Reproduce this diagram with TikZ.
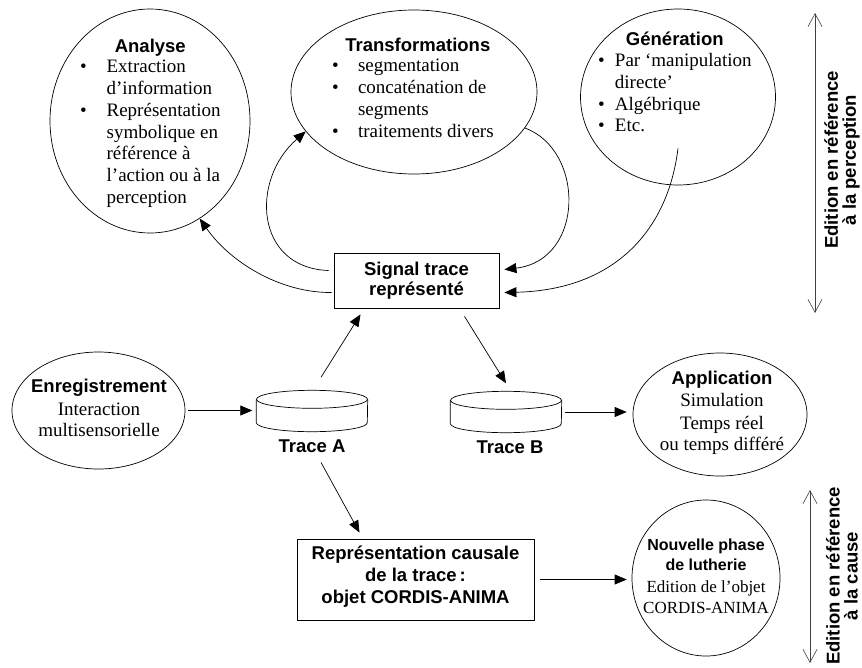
\documentclass[tikz,border=0pt]{standalone}
\usepackage{fontspec}
\setmainfont{Liberation Serif}
\setsansfont{Liberation Sans}
\usetikzlibrary{positioning, arrows.meta, shapes.geometric, calc}

\newcommand{\hd}{\sffamily\bfseries\fontsize{18.5}{22.2}\selectfont}
\newcommand{\hs}{\sffamily\bfseries\fontsize{18.5}{19.5}\selectfont}
\newcommand{\hn}{\sffamily\bfseries\fontsize{16}{21}\selectfont}
\newcommand{\tx}{\rmfamily\fontsize{19}{21.7}\selectfont}
\newcommand{\tn}{\rmfamily\fontsize{17}{21}\selectfont}
\newcommand{\bul}{\textbullet}
\newcommand{\deep}[1]{\rule[-#1]{0pt}{#1}}

\tikzset{
  bubble/.style={draw, ellipse, inner sep=0pt, line width=0.7pt},
  txt/.style={inner sep=0pt, outer sep=0pt, font=\tx},
  box/.style={draw, rectangle, line width=0.8pt, inner sep=0pt, font=\hd, align=center},
  disk/.style={rectangle, inner sep=0pt, minimum width=111pt, minimum height=41pt},
  conn/.style={-{Triangle[length=12pt,width=10pt]}, line width=0.7pt},
  axe/.style={{Straight Barb[length=13pt,width=14pt]}-{Straight Barb[length=13pt,width=14pt]},
              line width=0.6pt, black!75},
  lbl/.style={font=\hd, inner sep=0pt},
}

% flat cylinder drawn round a disk node
\newcommand{\cyl}[1]{%
  \draw[line width=0.7pt] ([yshift=-9pt]#1.north) ellipse [x radius=55.5pt, y radius=9pt];
  \draw[line width=0.7pt] ([yshift=-9pt]#1.north west) -- ([yshift=9pt]#1.south west)
    arc [start angle=180, end angle=360, x radius=55.5pt, y radius=9pt]
    -- ([yshift=-9pt]#1.north east);
}

\begin{document}
\begin{tikzpicture}[x=1pt, y=-1pt]
  \useasboundingbox (0,0) rectangle (862,667);

  % upper bubbles
  \node[bubble, minimum width=200pt, minimum height=224pt] (anal) at (150,121) {};
  \node[txt, anchor=north west] (analT) at (80,37.8) {%
    \begin{tabular}{@{}c@{\hspace{20pt}}l@{}}
      \multicolumn{2}{c}{\hd Analyse}\\[-1.7pt]
      \bul & Extraction\\
           & d’information\\
      \bul & Représentation\\
           & symbolique en\\
           & référence à\\
           & l’action ou à la\\[0.3pt]
           & perception
    \end{tabular}};

  \node[bubble, minimum width=246pt, minimum height=164pt] (trans) at (414,92) {};
  \node[txt, anchor=north west] (transT) at (332,36.8) {%
    \begin{tabular}{@{}c@{\hspace{19.4pt}}l@{}}
      \multicolumn{2}{c}{\hspace*{10pt}\makebox[0pt]{\hd Transformations}}\\[-1.7pt]
      \bul & segmentation\\
      \bul & concaténation de\\
           & segments\\
      \bul & traitements divers
    \end{tabular}};

  \node[bubble, minimum width=195pt, minimum height=176pt] (gen) at (678,97) {};
  \node[txt, anchor=north west] (genT) at (598,30.5) {%
    \begin{tabular}{@{}c@{\hspace{10.3pt}}l@{}}
      \multicolumn{2}{c}{\hd Génération}\\[-0.7pt]
      \bul & Par ‘manipulation\\
           & directe’\\
      \bul & Algébrique\\
      \bul & Etc.
    \end{tabular}};

  % central box and traces
  \node[box, font=\hs, minimum width=165pt, minimum height=55pt] (sig) at (416.5,280.5)
    {Signal trace\\représenté};

  \node[bubble, minimum width=173pt, minimum height=117pt] (enreg) at (98.5,410.5) {};
  \node[txt, anchor=north] (enregT) at (99,377.8) {%
    \begin{tabular}{@{}c@{}}
      {\hd Enregistrement}\\[1.3pt]
      Interaction\\[-0.7pt]
      multisensorielle
    \end{tabular}};

  \node[disk] (traceA) at (312,411) {};
  \cyl{traceA}
  \node[lbl, anchor=base] (labA) at (312,452) {Trace A};

  \node[disk] (traceB) at (506,412) {};
  \cyl{traceB}
  \node[lbl, anchor=base] (labB) at (510,453) {Trace B};

  \node[bubble, minimum width=174pt, minimum height=123pt] (appli) at (720,414.5) {};
  \node[txt, anchor=north] (appliT) at (722,369.8) {%
    \begin{tabular}{@{}c@{}}
      {\hd Application}\\
      Simulation\\[1.3pt]
      Temps réel\\[-0.7pt]
      ou temps différé
    \end{tabular}};

  % lower row
  \node[box, minimum width=237pt, minimum height=81pt] (rep) at (415.5,579.5)
    {Représentation causale\\de la trace\,:\\objet CORDIS-ANIMA\deep{9pt}};

  \node[bubble, minimum width=148pt, minimum height=156pt] (luth) at (706,578) {};
  \node[inner sep=0pt, outer sep=0pt, font=\tn, anchor=north] (luthT) at (706,536) {%
    \begin{tabular}{@{}c@{}}
      {\hn Nouvelle phase}\\[-1pt]
      {\hn de lutherie}\\[0.5pt]
      Edition de l’objet\\
      CORDIS-ANIMA
    \end{tabular}};

  % connectors
  \draw[conn] ([xshift=-5pt,yshift=10pt]sig.west)
    .. controls (255,268) and (250,180) .. (trans.-160);
  \draw[conn] ([xshift=-2pt,yshift=-12pt]sig.west)
    .. controls (280,293) and (230,262) .. (anal.-63);
  \draw[conn] (trans.-18)
    .. controls (585,150) and (585,260) .. ([xshift=5pt,yshift=11pt]sig.east);
  \draw[conn] ([yshift=37pt]gen.south)
    .. controls (668,230) and (615,290) .. ([xshift=5pt,yshift=-12pt]sig.east);

  \draw[conn] ([xshift=9pt,yshift=13pt]traceA.north) -- ([xshift=-56pt,yshift=-6pt]sig.south);
  \draw[conn] ([xshift=48pt,yshift=-8pt]sig.south) -- ([yshift=8pt]traceB.north);
  \draw[conn] ([xshift=9pt,yshift=-10pt]labA.south) -- ([xshift=-56pt,yshift=6pt]rep.north);

  \draw[conn, shorten <=3pt, shorten >=4pt] (enreg.east) -- (enreg.east -| traceA.west);
  \draw[conn, shorten <=3pt, shorten >=6pt] (traceB.east) -- (traceB.east -| appli.west);
  \draw[conn, shorten <=6pt, shorten >=5pt] (rep.east) -- (rep.east -| luth.west);

  % edition scales on the right
  \coordinate (percTop) at (815,13);
  \coordinate (percBot) at (815,313);
  \draw[axe] (percTop) -- (percBot);
  \node[lbl, rotate=90, align=center, font=\sffamily\bfseries\fontsize{18.5}{18}\selectfont]
    (percL) at (842,160) {Edition en référence\\à la perception};

  \coordinate (causTop) at (810,490);
  \coordinate (causBot) at (810,663);
  \draw[axe] (causTop) -- (causBot);
  \node[lbl, rotate=90, align=center, font=\sffamily\bfseries\fontsize{18.5}{18}\selectfont]
    (causL) at (842,576) {Edition en référence\\à la cause};
\end{tikzpicture}
\end{document}
